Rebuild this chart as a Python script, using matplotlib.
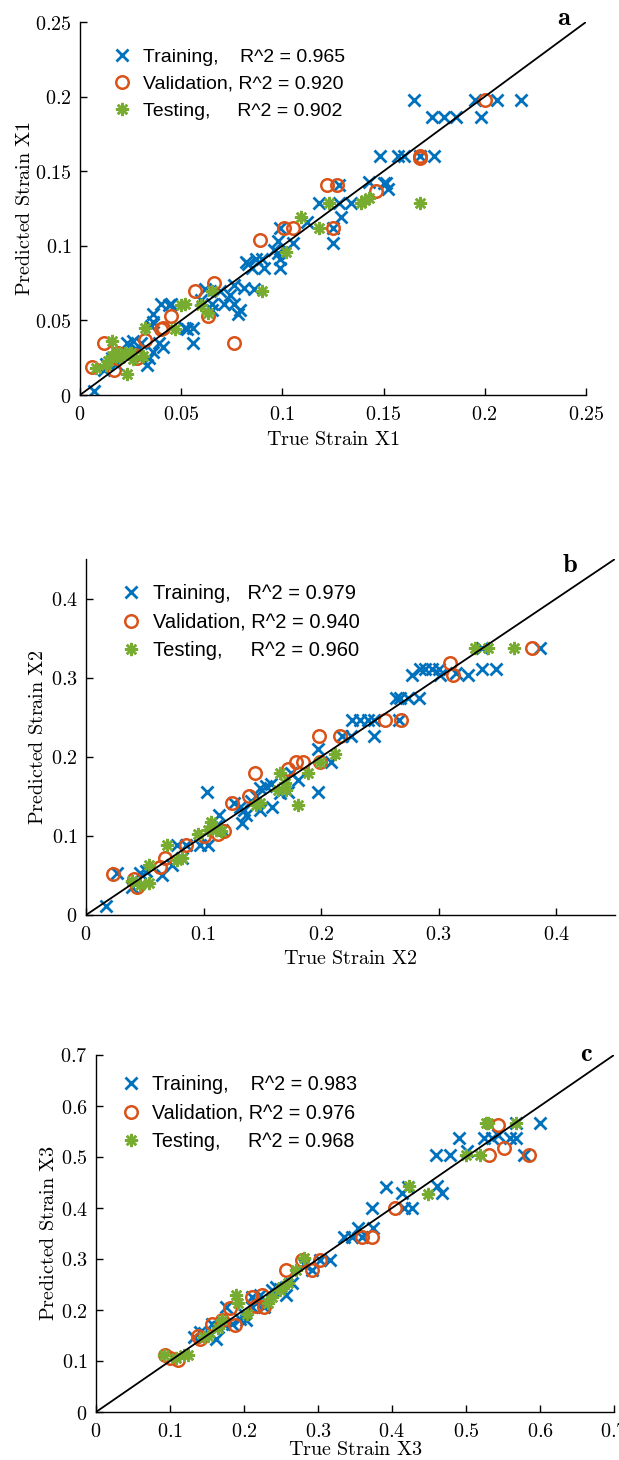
import matplotlib
matplotlib.use("Agg")
import matplotlib.pyplot as plt
from matplotlib.ticker import FuncFormatter

plt.rcParams['mathtext.fontset'] = 'cm'

BLUE = '#0072BD'
ORANGE = '#D95319'
GREEN = '#77AC30'

# ---------------- Panel a (X1) ----------------
a_train_x = [0.165, 0.195, 0.206, 0.218, 0.198, 0.174, 0.180, 0.186, 0.148, 0.157, 0.160, 0.168, 0.175,
             0.143, 0.150, 0.151, 0.152, 0.128, 0.118, 0.128, 0.134, 0.129, 0.125, 0.125, 0.112, 0.105,
             0.099, 0.098, 0.096, 0.098, 0.099, 0.099, 0.082, 0.083, 0.087, 0.090, 0.091, 0.085, 0.081,
             0.076, 0.074, 0.071, 0.076, 0.079, 0.078, 0.086, 0.069, 0.065, 0.065, 0.062, 0.060, 0.056,
             0.052, 0.056, 0.053, 0.045, 0.040, 0.044, 0.036, 0.036, 0.035, 0.041, 0.039, 0.036, 0.034,
             0.033, 0.030, 0.026, 0.023, 0.020, 0.016, 0.013, 0.012, 0.007, 0.024, 0.028, 0.018]
a_train_y = [0.198, 0.198, 0.198, 0.198, 0.186, 0.186, 0.186, 0.186, 0.160, 0.160, 0.160, 0.160, 0.160,
             0.143, 0.142, 0.142, 0.138, 0.141, 0.129, 0.129, 0.129, 0.119, 0.112, 0.102, 0.116, 0.102,
             0.112, 0.103, 0.097, 0.095, 0.091, 0.085, 0.089, 0.088, 0.091, 0.091, 0.085, 0.085, 0.072,
             0.074, 0.067, 0.061, 0.061, 0.057, 0.054, 0.071, 0.070, 0.061, 0.057, 0.071, 0.064, 0.045,
             0.045, 0.035, 0.044, 0.061, 0.061, 0.060, 0.054, 0.049, 0.046, 0.032, 0.035, 0.029, 0.025,
             0.020, 0.035, 0.036, 0.035, 0.028, 0.025, 0.021, 0.017, 0.003, 0.028, 0.030, 0.021]
a_val_x = [0.200, 0.168, 0.168, 0.146, 0.122, 0.127, 0.125, 0.101, 0.105, 0.089, 0.066, 0.057,
           0.063, 0.045, 0.040, 0.041, 0.076, 0.032, 0.028, 0.027, 0.012, 0.006, 0.017, 0.019]
a_val_y = [0.198, 0.160, 0.159, 0.137, 0.141, 0.141, 0.112, 0.112, 0.112, 0.104, 0.075, 0.070,
           0.053, 0.053, 0.044, 0.045, 0.035, 0.037, 0.025, 0.027, 0.035, 0.019, 0.017, 0.028]
a_test_x = [0.168, 0.139, 0.141, 0.143, 0.123, 0.118, 0.109, 0.102, 0.090, 0.065, 0.060, 0.050, 0.052,
            0.063, 0.047, 0.032, 0.016, 0.008, 0.023, 0.031, 0.022, 0.016, 0.014, 0.013, 0.020, 0.025,
            0.018, 0.026]
a_test_y = [0.129, 0.129, 0.131, 0.132, 0.129, 0.112, 0.119, 0.096, 0.070, 0.070, 0.060, 0.060, 0.061,
            0.055, 0.044, 0.045, 0.036, 0.018, 0.014, 0.026, 0.028, 0.026, 0.023, 0.020, 0.025, 0.028,
            0.029, 0.024]

# ---------------- Panel b (X2) ----------------
b_train_x = [0.017, 0.026, 0.039, 0.046, 0.051, 0.065, 0.073, 0.077, 0.085, 0.082, 0.097, 0.104, 0.103,
             0.113, 0.111, 0.116, 0.126, 0.131, 0.133, 0.136, 0.140, 0.145, 0.148, 0.153, 0.157, 0.158,
             0.148, 0.134, 0.165, 0.172, 0.180, 0.174, 0.197, 0.197, 0.208, 0.218, 0.225, 0.226, 0.233,
             0.240, 0.245, 0.245, 0.266, 0.264, 0.267, 0.274, 0.283, 0.277, 0.284, 0.288, 0.294, 0.300,
             0.301, 0.315, 0.325, 0.337, 0.349, 0.386, 0.337]
b_train_y = [0.012, 0.053, 0.036, 0.053, 0.055, 0.051, 0.063, 0.089, 0.089, 0.072, 0.089, 0.089, 0.155,
             0.127, 0.112, 0.108, 0.141, 0.137, 0.116, 0.127, 0.144, 0.150, 0.161, 0.163, 0.165, 0.137,
             0.133, 0.133, 0.154, 0.156, 0.171, 0.180, 0.155, 0.210, 0.193, 0.226, 0.226, 0.246, 0.246,
             0.246, 0.246, 0.226, 0.246, 0.274, 0.274, 0.274, 0.274, 0.304, 0.311, 0.311, 0.311, 0.311,
             0.304, 0.306, 0.304, 0.311, 0.311, 0.338, 0.338]
b_val_x = [0.023, 0.041, 0.043, 0.063, 0.067, 0.085, 0.100, 0.112, 0.117, 0.124, 0.139, 0.144,
           0.172, 0.179, 0.185, 0.198, 0.199, 0.216, 0.254, 0.268, 0.310, 0.312, 0.379]
b_val_y = [0.052, 0.045, 0.035, 0.061, 0.072, 0.089, 0.100, 0.103, 0.106, 0.141, 0.151, 0.180,
           0.184, 0.194, 0.194, 0.226, 0.194, 0.226, 0.246, 0.246, 0.319, 0.304, 0.338]
b_test_x = [0.039, 0.046, 0.054, 0.054, 0.069, 0.077, 0.082, 0.095, 0.106, 0.111, 0.115, 0.104, 0.145,
            0.148, 0.165, 0.163, 0.170, 0.169, 0.180, 0.189, 0.199, 0.212, 0.331, 0.342, 0.364]
b_test_y = [0.043, 0.038, 0.041, 0.063, 0.089, 0.070, 0.072, 0.103, 0.117, 0.108, 0.106, 0.108, 0.139,
            0.141, 0.180, 0.158, 0.158, 0.167, 0.139, 0.180, 0.194, 0.203, 0.338, 0.338, 0.338]

# ---------------- Panel c (X3) ----------------
c_train_x = [0.600, 0.568, 0.568, 0.559, 0.543, 0.535, 0.524, 0.491, 0.578, 0.502, 0.478, 0.459, 0.392,
             0.461, 0.468, 0.414, 0.422, 0.427, 0.416, 0.373, 0.374, 0.354, 0.346, 0.335, 0.359, 0.316,
             0.303, 0.292, 0.281, 0.265, 0.257, 0.249, 0.238, 0.243, 0.222, 0.216, 0.211, 0.200, 0.195,
             0.203, 0.184, 0.176, 0.173, 0.165, 0.162, 0.157, 0.146, 0.132, 0.141, 0.227, 0.211]
c_train_y = [0.566, 0.566, 0.538, 0.538, 0.543, 0.538, 0.538, 0.538, 0.504, 0.512, 0.504, 0.504, 0.442,
             0.443, 0.430, 0.430, 0.442, 0.400, 0.400, 0.400, 0.360, 0.360, 0.343, 0.343, 0.343, 0.299,
             0.298, 0.279, 0.291, 0.252, 0.229, 0.242, 0.239, 0.245, 0.229, 0.213, 0.206, 0.193, 0.183,
             0.180, 0.173, 0.206, 0.173, 0.167, 0.144, 0.173, 0.154, 0.147, 0.157, 0.206, 0.226]
c_val_x = [0.543, 0.552, 0.531, 0.585, 0.404, 0.359, 0.373, 0.303, 0.292, 0.278, 0.257, 0.188,
           0.211, 0.224, 0.227, 0.216, 0.181, 0.170, 0.157, 0.138, 0.141, 0.093, 0.100, 0.111]
c_val_y = [0.563, 0.517, 0.504, 0.504, 0.400, 0.343, 0.343, 0.298, 0.278, 0.299, 0.279, 0.170,
           0.226, 0.229, 0.206, 0.207, 0.203, 0.180, 0.173, 0.150, 0.144, 0.111, 0.105, 0.101]
c_test_x = [0.530, 0.527, 0.568, 0.500, 0.519, 0.423, 0.448, 0.281, 0.270, 0.259, 0.249, 0.238, 0.232,
            0.189, 0.192, 0.204, 0.170, 0.165, 0.146, 0.151, 0.092, 0.108, 0.119, 0.124, 0.251]
c_test_y = [0.566, 0.566, 0.566, 0.504, 0.504, 0.443, 0.428, 0.301, 0.279, 0.252, 0.239, 0.226, 0.213,
            0.229, 0.213, 0.193, 0.180, 0.164, 0.147, 0.150, 0.111, 0.105, 0.111, 0.111, 0.245]

panels = [
    dict(tr=(a_train_x, a_train_y), va=(a_val_x, a_val_y), te=(a_test_x, a_test_y),
         lim=0.25, ticks=[0, 0.05, 0.1, 0.15, 0.2, 0.25],
         labels=['Training,    R^2 = 0.965', 'Validation, R^2 = 0.920', 'Testing,     R^2 = 0.902'],
         xlabel=r'$\mathrm{True\ Strain\ X1}$', ylabel=r'$\mathrm{Predicted\ Strain\ X1}$',
         letter='a', pos=[80, 22, 586, 395], leg=(0.063, 0.93), lfs=14,
         letpos=(0.957, 1.01), xlab=-0.12, ylab=-0.11),
    dict(tr=(b_train_x, b_train_y), va=(b_val_x, b_val_y), te=(b_test_x, b_test_y),
         lim=0.45, ticks=[0, 0.1, 0.2, 0.3, 0.4],
         labels=['Training,   R^2 = 0.979', 'Validation, R^2 = 0.940', 'Testing,     R^2 = 0.960'],
         xlabel=r'$\mathrm{True\ Strain\ X2}$', ylabel=r'$\mathrm{Predicted\ Strain\ X2}$',
         letter='b', pos=[86, 559, 615, 915], leg=(0.066, 0.93), lfs=14.5,
         letpos=(0.915, 0.983), xlab=-0.121, ylab=-0.092),
    dict(tr=(c_train_x, c_train_y), va=(c_val_x, c_val_y), te=(c_test_x, c_test_y),
         lim=0.7, ticks=[0, 0.1, 0.2, 0.3, 0.4, 0.5, 0.6, 0.7],
         labels=['Training,    R^2 = 0.983', 'Validation, R^2 = 0.976', 'Testing,     R^2 = 0.968'],
         xlabel=r'$\mathrm{True\ Strain\ X3}$', ylabel=r'$\mathrm{Predicted\ Strain\ X3}$',
         letter='c', pos=[96, 1055, 614, 1412], leg=(0.048, 0.944), lfs=14.2,
         letpos=(0.946, 1.003), xlab=-0.104, ylab=-0.092),
]

W, H = 619, 1460
fig = plt.figure(figsize=(W / 100, H / 100), dpi=100)
fmt = FuncFormatter(lambda v, p: r'$%g$' % round(v, 6))

for P in panels:
    x0, y0, x1, y1 = P['pos']
    ax = fig.add_axes([x0 / W, 1 - y1 / H, (x1 - x0) / W, (y1 - y0) / H])
    ax.plot(*P['tr'], linestyle='none', marker='x', color=BLUE, ms=8, mew=2.0, label=P['labels'][0])
    ax.plot(*P['va'], linestyle='none', marker='o', mfc='none', mec=ORANGE, ms=9, mew=1.8,
            label=P['labels'][1])
    ax.plot(*P['te'], linestyle='none', marker=(8, 2, 0), color=GREEN, ms=9.5, mew=1.8,
            label=P['labels'][2])
    lim = P['lim']
    ax.plot([0, lim], [0, lim], color='black', lw=1.3, zorder=5)
    ax.set_xlim(0, lim)
    ax.set_ylim(0, lim)
    ax.set_xticks(P['ticks'])
    ax.set_yticks(P['ticks'])
    ax.xaxis.set_major_formatter(fmt)
    ax.yaxis.set_major_formatter(fmt)
    ax.tick_params(direction='in', length=5, width=1.0, labelsize=14.5, pad=7)
    ax.tick_params(axis='y', pad=6)
    for s in ['top', 'right']:
        ax.spines[s].set_visible(False)
    for s in ['left', 'bottom']:
        ax.spines[s].set_linewidth(1.0)
    ax.set_xlabel(P['xlabel'], fontsize=14.5, va='center')
    ax.set_ylabel(P['ylabel'], fontsize=14.5, va='center')
    ax.xaxis.set_label_coords(0.5, P['xlab'])
    ax.yaxis.set_label_coords(P['ylab'], 0.5)
    ax.text(P['letpos'][0], P['letpos'][1], r'$\mathbf{%s}$' % P['letter'], transform=ax.transAxes,
            fontsize=19, ha='center', va='center')
    leg = ax.legend(loc='upper left', bbox_to_anchor=P['leg'], frameon=False, borderpad=0,
                    borderaxespad=0, handlelength=1.0, handletextpad=0.6, labelspacing=0.48,
                    prop={'family': 'Liberation Sans', 'size': P['lfs']})

fig.savefig('out.png', dpi=100)
